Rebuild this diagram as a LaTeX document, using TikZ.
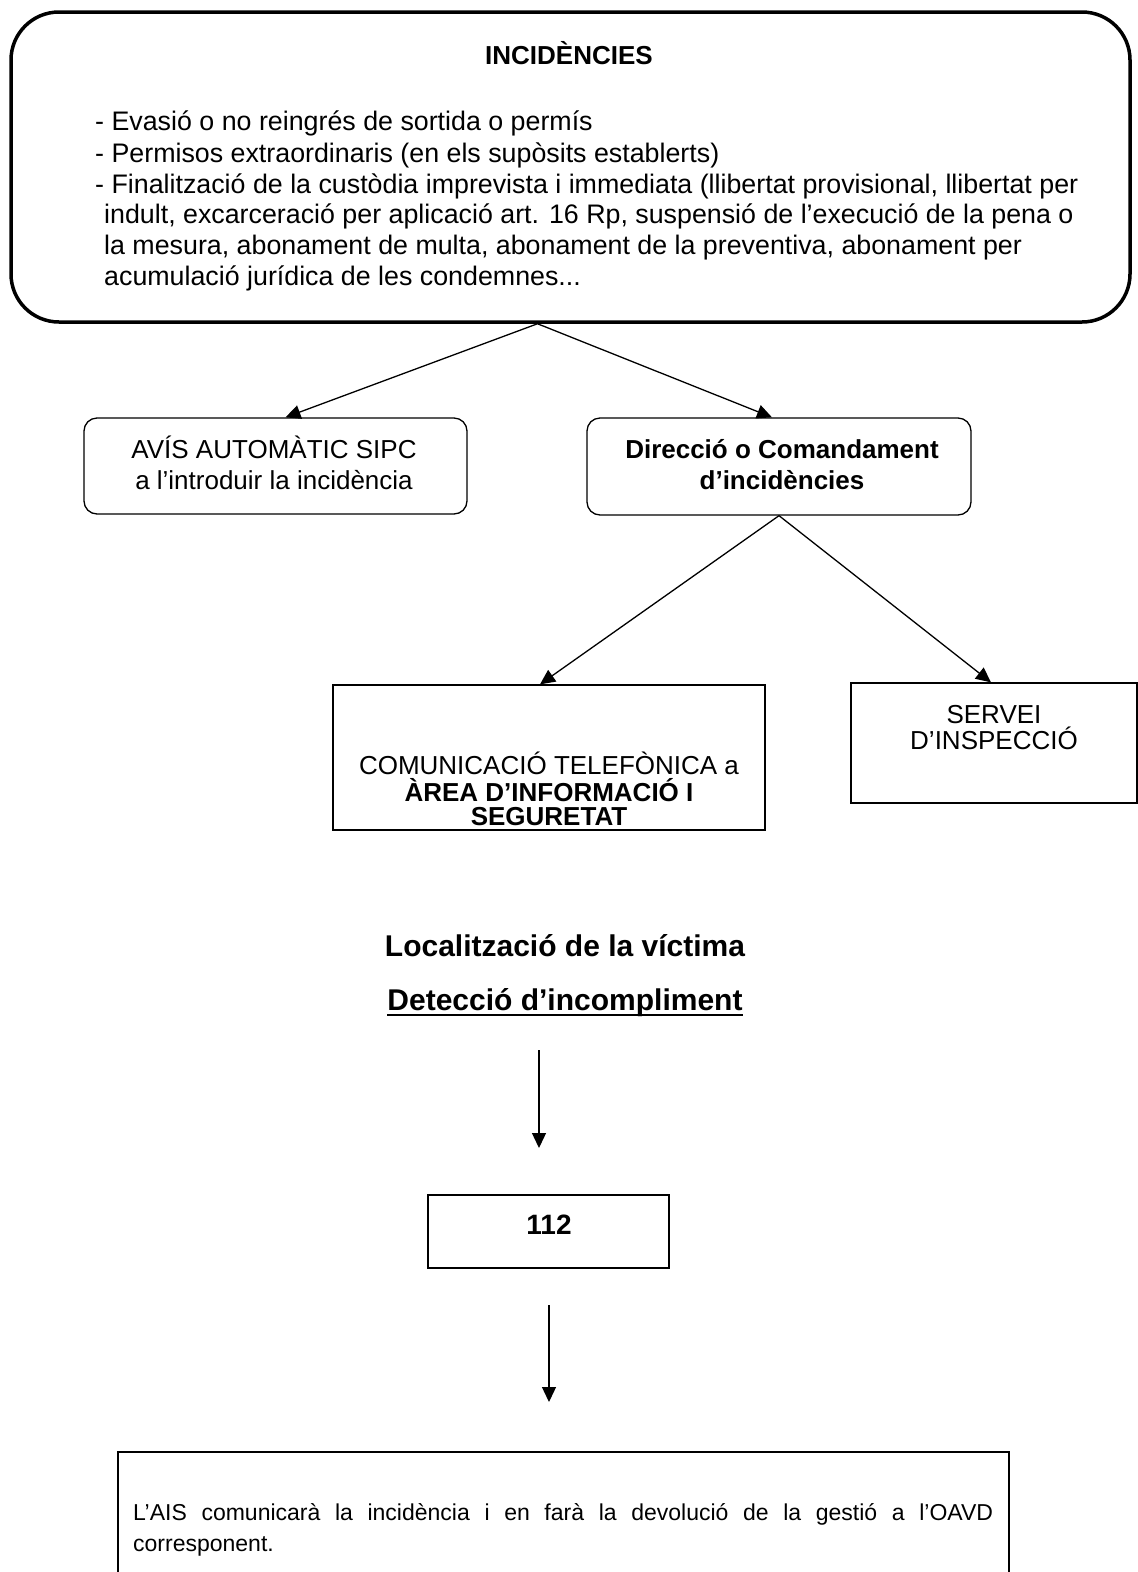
\documentclass[tikz,border=0pt]{standalone}
\usepackage{fontspec}
\setmainfont{Liberation Sans}
\usetikzlibrary{arrows.meta,positioning,calc}

\begin{document}
\begin{tikzpicture}[x=1pt,y=-1pt,
  rbox/.style={draw,rounded corners=13pt,line width=1.3pt,inner sep=0pt},
  sqbox/.style={draw,line width=1.3pt,inner sep=0pt},
  txt/.style={inner sep=0pt,anchor=base,font=\fontsize{26}{28}\selectfont},
  btxt/.style={txt,font=\fontsize{26}{28}\selectfont\bfseries},
  itxt/.style={txt,anchor=base west,font=\fontsize{26.8}{31}\selectfont},
  link/.style={-{Triangle[length=15pt,width=14pt]},line width=1.3pt}]
\useasboundingbox (0,0) rectangle (1138,1572);
% top box
\node[draw,rounded corners=48pt,line width=3.5pt,minimum width=1119pt,minimum height=310pt] (incid) at (570.5,167) {};
\node[btxt] (title) at (569,64) {INCIDÈNCIES};
\node[itxt] (inc1) at (95,130) {- Evasió o no reingrés de sortida o permís};
\node[itxt] (inc2) at (95,162) {- Permisos extraordinaris (en els supòsits establerts)};
\node[itxt] (inc3) at (95,193) {- Finalització de la custòdia imprevista i immediata (llibertat provisional, llibertat per};
\node[itxt] (inc4) at (104,223) {indult, excarceració per aplicació art. 16 Rp, suspensió de l’execució de la pena o};
\node[itxt] (inc5) at (104,254) {la mesura, abonament de multa, abonament de la preventiva, abonament per};
\node[itxt] (inc6) at (104,285) {acumulació jurídica de les condemnes...};
% second row
\node[rbox,minimum width=383pt,minimum height=96pt] (avis) at (275.5,466) {};
\node[txt] (avis1) at (274,458) {AVÍS AUTOMÀTIC SIPC};
\node[txt] (avis2) at (274,489) {a l’introduir la incidència};
\node[rbox,minimum width=384pt,minimum height=97pt] (direc) at (779,466.5) {};
\node[btxt] (direc1) at (782,458) {Direcció o Comandament};
\node[btxt] (direc2) at (782,489) {d’incidències};
% third row
\node[sqbox,minimum width=432pt,minimum height=145pt] (comu) at (549,757.5) {};
\node[txt] (comu1) at (549,774) {COMUNICACIÓ TELEFÒNICA a};
\node[btxt] (comu2) at (549,801) {ÀREA D’INFORMACIÓ I};
\node[btxt] (comu3) at (549,825) {SEGURETAT};
\node[sqbox,minimum width=286pt,minimum height=120pt] (serv) at (994,743) {};
\node[txt] (serv1) at (994,723) {SERVEI};
\node[txt] (serv2) at (994,749) {D’INSPECCIÓ};
% headings
\node[txt,font=\fontsize{30}{34}\selectfont\bfseries] (loc) at (565,956) {Localització de la víctima};
\node[txt,font=\fontsize{30}{34}\selectfont\bfseries] (detect) at (565,1010) {Detecció d’incompliment};
\draw[line width=2pt] ([yshift=-5pt]detect.base west) -- ([yshift=-5pt]detect.base east);
% 112 and last box
\coordinate (a1) at (539,1050);
\coordinate (a2) at (539,1148);
\node[sqbox,line width=1.8pt,minimum width=241pt,minimum height=73pt] (num) at (548.5,1231.5) {};
\node[txt,font=\fontsize{28}{30}\selectfont\bfseries] (num1) at (549,1234) {112};
\coordinate (b1) at (549,1305);
\coordinate (b2) at (549,1402);
\node[sqbox,line width=2.5pt,minimum width=891pt,minimum height=140pt] (ais) at (563.5,1522) {};
\node[txt,anchor=base west,font=\fontsize{23}{31}\selectfont] (ais1) at (133,1520) {\makebox[860pt][s]{L’AIS comunicarà la incidència i en farà la devolució de la gestió a l’OAVD}};
\node[txt,anchor=base west,font=\fontsize{23}{31}\selectfont] (ais2) at (133,1551) {corresponent.};
% connectors
\draw[link] ([xshift=-33pt]incid.south) -- ([xshift=10pt]avis.north);
\draw[link] ([xshift=-33pt]incid.south) -- ([xshift=-7pt]direc.north);
\draw[link] (direc.south) -- ([xshift=-9pt]comu.north);
\draw[link] (direc.south) -- ([xshift=-3pt]serv.north);
\draw[link] (a1) -- (a2);
\draw[link] (b1) -- (b2);
\end{tikzpicture}
\end{document}
